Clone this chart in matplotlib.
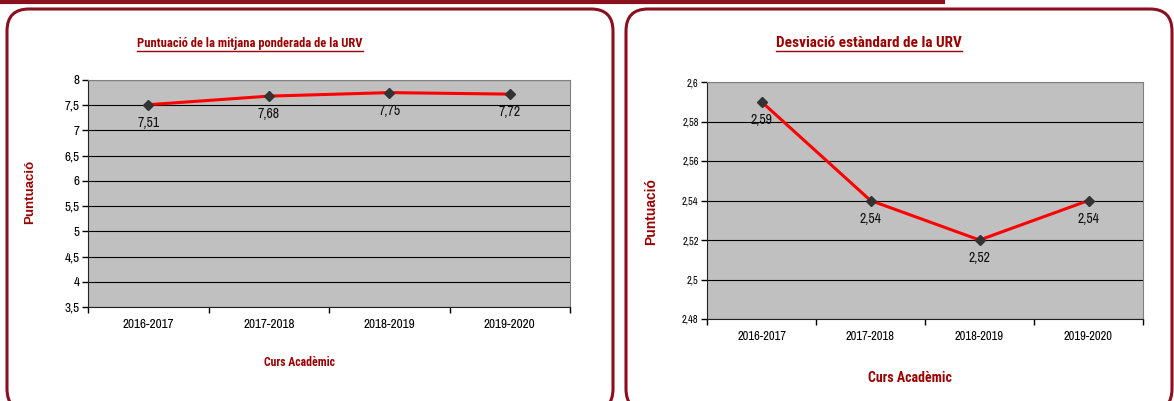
import matplotlib
matplotlib.use('Agg')
import matplotlib.pyplot as plt
import matplotlib.patches as patches

cursos = ['2016-2017', '2017-2018', '2018-2019', '2019-2020']
mitjana = [7.51, 7.68, 7.75, 7.72]
desviacio = [2.59, 2.54, 2.52, 2.54]
mitjana_ticks = [3.5, 4, 4.5, 5, 5.5, 6, 6.5, 7, 7.5, 8]
desviacio_ticks = [2.48, 2.50, 2.52, 2.54, 2.56, 2.58, 2.60]

W, H = 1174, 401
NARROW = ['Archivo Narrow', 'Roboto Condensed', 'Liberation Sans', 'DejaVu Sans']
NARROW_BOLD = ['Roboto Condensed', 'Liberation Sans', 'DejaVu Sans']
WIDE = ['Liberation Sans', 'DejaVu Sans']
DARK_RED = '#9a0000'
BORDER = '#8a1020'


def px_rect(x0, y0, x1, y1):
    # pixel box (top-left origin) -> figure fraction rect
    return [x0 / W, 1 - y1 / H, (x1 - x0) / W, (y1 - y0) / H]


fig = plt.figure(figsize=(W / 100, H / 100), dpi=100)
bg = fig.add_axes([0, 0, 1, 1], zorder=0)
bg.set_xlim(0, W)
bg.set_ylim(H, 0)
bg.axis('off')

# top bar and the two rounded panels
bg.plot([0, 945], [2, 2], color=BORDER, lw=3, solid_capstyle='butt')
for x0, x1 in [(7, 613), (626, 1172)]:
    bg.add_patch(patches.FancyBboxPatch((x0, 9), x1 - x0, 402,
                                        boxstyle='round,pad=0,rounding_size=22',
                                        fc='white', ec=BORDER, lw=2.2))


def draw_chart(rect, values, ticks, title, title_pos, title_size,
               ylab_pos, ylab_size, xlab, ytick_size, xtick_size):
    ax = fig.add_axes(px_rect(*rect), zorder=2)
    ax.set_facecolor('#c0c0c0')
    x = list(range(len(values)))
    ax.plot(x, values, color='#ff0000', lw=2.2, marker='D', ms=5,
            mfc='#333333', mec='#333333', zorder=3)
    for i, v in enumerate(values):
        ax.annotate(f'{v:.2f}'.replace('.', ','), (i, v), xytext=(0, -13),
                    textcoords='offset points', ha='center', va='center',
                    fontsize=10, family=NARROW, color='#111111')
    ax.set_xlim(-0.5, len(values) - 0.5)
    ax.set_ylim(ticks[0], ticks[-1])
    ax.set_yticks(ticks)
    ax.set_yticklabels([f'{t:g}'.replace('.', ',') for t in ticks],
                       fontsize=ytick_size, family=NARROW)
    ax.set_xticks(x)
    ax.set_xticklabels(cursos, fontsize=xtick_size, family=NARROW)
    ax.set_xticks([i - 0.5 for i in range(len(values) + 1)], minor=True)
    ax.tick_params(axis='x', which='major', length=0, pad=9)
    ax.tick_params(axis='x', which='minor', length=4, width=1)
    ax.tick_params(axis='y', length=4, width=1, pad=2)
    ax.yaxis.grid(True, color='black', lw=0.8)
    ax.set_axisbelow(True)
    for s in ['left', 'bottom']:
        ax.spines[s].set_color('#222222')
    for s in ['top', 'right']:
        ax.spines[s].set_color('#808080')
    t = bg.text(title_pos[0], title_pos[1], title, ha='center', va='center',
                fontsize=title_size, family=NARROW_BOLD, weight='bold', color=DARK_RED)
    bg.text(ylab_pos[0], ylab_pos[1], 'Puntuació', rotation=90, ha='center',
            va='center', fontsize=ylab_size, family=WIDE, weight='bold', color=DARK_RED)
    bg.text(xlab[0], xlab[1], 'Curs Acadèmic', ha='center', va='center',
            fontsize=xlab[2], family=NARROW_BOLD, weight='bold', color=DARK_RED)
    return t


t1 = draw_chart((88, 80, 570, 307), mitjana, mitjana_ticks,
                'Puntuació de la mitjana ponderada de la URV', (250, 43), 9,
                (30, 192), 9.5, (299, 363, 8.5), 9.5, 9.5)
t2 = draw_chart((707, 82, 1143, 319), desviacio, desviacio_ticks,
                'Desviació estàndard de la URV', (869, 43), 11,
                (651, 212), 10, (910, 378, 10), 7.5, 9)

# underline the titles
fig.canvas.draw()
r = fig.canvas.get_renderer()
for t in (t1, t2):
    bb = t.get_window_extent(r)
    bg.plot([bb.x0, bb.x1], [H - bb.y0 + 1, H - bb.y0 + 1], color=DARK_RED, lw=1)

fig.savefig('out.png', dpi=100)
